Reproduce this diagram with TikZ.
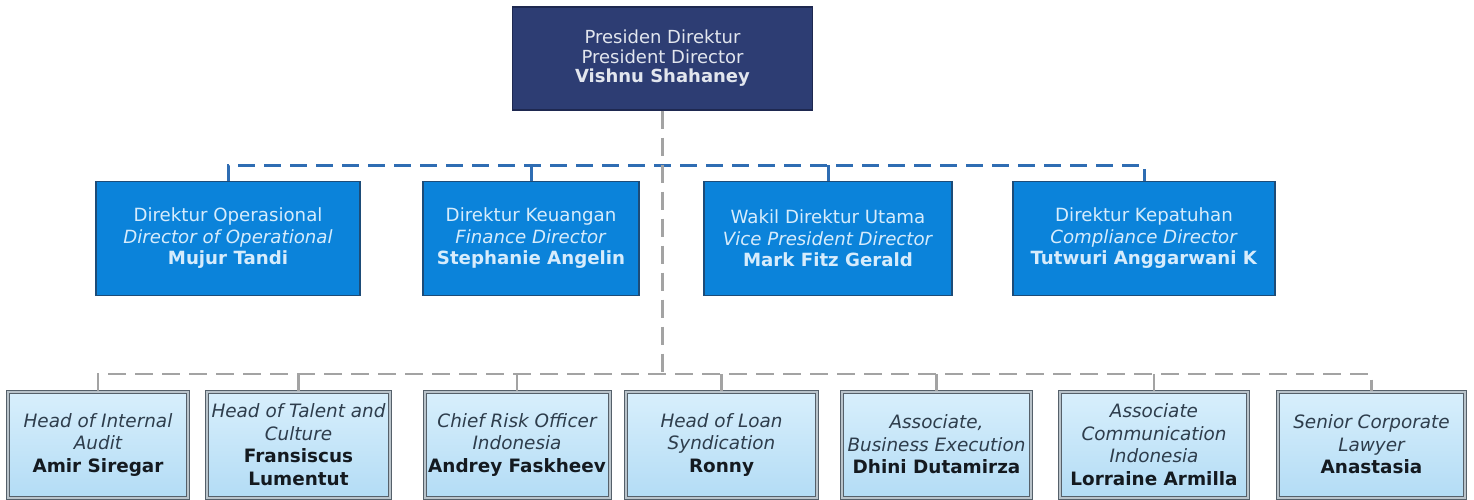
\documentclass[tikz,border=0pt]{standalone}
\usepackage{fontspec}
\setmainfont{DejaVu Sans}
\definecolor{navy}{HTML}{2D3D73}
\definecolor{navyline}{HTML}{1E2850}
\definecolor{midblue}{HTML}{0B83DA}
\definecolor{midline}{HTML}{1D4C78}
\definecolor{midtext}{HTML}{D6ECFC}
\definecolor{toptext}{HTML}{E2E6EE}
\definecolor{lbtop}{HTML}{D8EFFC}
\definecolor{lbbot}{HTML}{B3DCF5}
\definecolor{lbline}{HTML}{55606A}
\definecolor{lbgap}{HTML}{B9C3CA}
\definecolor{lbitalic}{HTML}{2E3D4C}
\definecolor{lbname}{HTML}{141A20}
\definecolor{busblue}{HTML}{2F6DB3}
\definecolor{busgray}{HTML}{A3A3A3}
\begin{document}
\begin{tikzpicture}[x=1pt,y=-1pt,
  topbox/.style={draw=navyline, line width=1.2pt, fill=navy, text=toptext,
    minimum width=300pt, minimum height=103pt, inner sep=0pt, align=center,
    font=\fontsize{18}{19.5}\selectfont},
  midbox/.style={draw=midline, line width=1.5pt, fill=midblue, text=midtext,
    minimum height=114pt, inner sep=0pt, align=center,
    font=\fontsize{18.2}{21.5}\selectfont},
  lowbox/.style={draw=lbline, line width=1pt, double=lbgap, double distance=2pt,
    top color=lbtop, bottom color=lbbot, text=lbitalic,
    minimum height=106pt, inner sep=0pt, align=center,
    font=\fontsize{18.4}{22.5}\selectfont},
  bluebus/.style={draw=busblue, line width=3pt, dash pattern=on 17pt off 9pt},
  graybus/.style={draw=busgray, line width=2.8pt, dash pattern=on 18pt off 9pt},
  nm/.style={text=lbname}
]
\useasboundingbox (0,0) rectangle (1474,499);
\fill[white] (0,0) rectangle (1474,499);

% bus levels
\coordinate (by) at (0,165);
\coordinate (gy) at (0,374);

% top
\node[topbox] (pd) at (662.5,58.5) {Presiden Direktur\\President Director\\\textbf{Vishnu Shahaney}};

% middle row
\node[midbox, minimum width=264pt] (m1) at (228,238.5) {Direktur Operasional\\\textit{Director of Operational}\\\textbf{Mujur Tandi}};
\node[midbox, minimum width=216pt] (m2) at (531,238.5) {Direktur Keuangan\\\textit{Finance Director}\\\textbf{Stephanie Angelin}};
\node[midbox, minimum width=248pt] (m3) at (828,238.5) {Wakil Direktur Utama\\\textit{Vice President Director}\\\textbf{Mark Fitz Gerald}};
\node[midbox, minimum width=262pt] (m4) at (1144,238.5) {Direktur Kepatuhan\\\textit{Compliance Director}\\\textbf{Tutwuri Anggarwani K}};

% bottom row
\node[lowbox, minimum width=180pt] (b1) at (98,444.5) {\itshape Head of Internal\\\itshape Audit\\\textbf{\color{lbname}Amir Siregar}};
\node[lowbox, minimum width=183pt] (b2) at (298.5,444.5) {\itshape Head of Talent and\\\itshape Culture\\\textbf{\color{lbname}Fransiscus}\\\textbf{\color{lbname}Lumentut}};
\node[lowbox, minimum width=185pt] (b3) at (517,444.5) {\itshape Chief Risk Officer\\\itshape Indonesia\\\textbf{\color{lbname}Andrey Faskheev}};
\node[lowbox, minimum width=191pt] (b4) at (721.5,444.5) {\itshape Head of Loan\\\itshape Syndication\\\textbf{\color{lbname}Ronny}};
\node[lowbox, minimum width=189pt] (b5) at (936.5,444.5) {\itshape Associate,\\\itshape Business Execution\\\textbf{\color{lbname}Dhini Dutamirza}};
\node[lowbox, minimum width=188pt] (b6) at (1154,444.5) {\itshape Associate\\\itshape Communication\\\itshape Indonesia\\\textbf{\color{lbname}Lorraine Armilla}};
\node[lowbox, minimum width=187pt] (b7) at (1371.5,444.5) {\itshape Senior Corporate\\\itshape Lawyer\\\textbf{\color{lbname}Anastasia}};

% blue bus to directors
\draw[bluebus] (m1.north) -- (m1.north |- by) -- (m4.north |- by) -- (m4.north);
\draw[bluebus] (m2.north |- by) -- (m2.north);
\draw[bluebus] (m3.north |- by) -- (m3.north);

% gray bus to staff
\draw[graybus] (pd.south) -- (pd.south |- gy);
\draw[graybus] (b1.north) -- (b1.north |- gy) -- (b7.north |- gy) -- (b7.north);
\foreach \b in {b2,b3,b4,b5,b6}{
  \draw[graybus] (\b.north |- gy) -- (\b.north);
}
\end{tikzpicture}
\end{document}
